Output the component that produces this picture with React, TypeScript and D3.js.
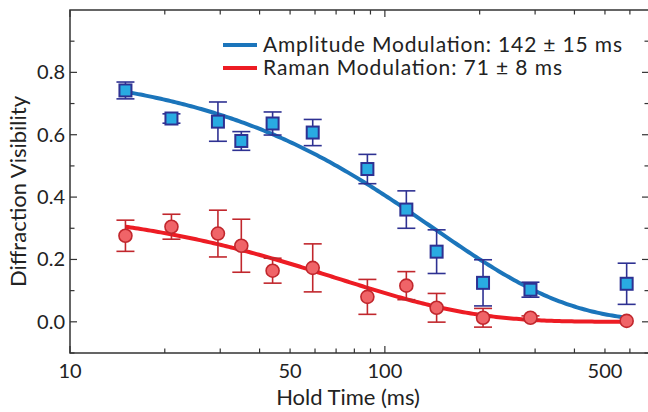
import { scaleLog, scaleLinear, line as d3Line, range } from "d3";

// hold times (ms)
const amTimes = [15, 21, 29.5, 35, 44, 59, 88, 117, 146, 205, 290, 586];
const amVis = [0.742, 0.652, 0.642, 0.58, 0.636, 0.607, 0.49, 0.36, 0.225, 0.125, 0.103, 0.122];
const amErr = [0.027, 0.015, 0.063, 0.03, 0.037, 0.042, 0.047, 0.06, 0.07, 0.074, 0.024, 0.066];

const rmTimes = [15, 21, 29.5, 35, 44, 59, 88, 117, 146, 205, 290, 586];
const rmVis = [0.276, 0.305, 0.283, 0.244, 0.164, 0.173, 0.08, 0.116, 0.045, 0.013, 0.013, 0.003];
const rmErr = [0.05, 0.04, 0.075, 0.085, 0.04, 0.077, 0.056, 0.045, 0.046, 0.03, 0.006, 0];

// exponential fits A * exp(-t / tau)
const amFit = { amp: 0.82, tau: 142 };
const rmFit = { amp: 0.377, tau: 71 };

const xLabels = [10, 50, 100, 500];
const yLabels = [0, 0.2, 0.4, 0.6, 0.8];

const W = 648;
const H = 412;
const m = { left: 70, right: 649, top: 10, bottom: 353 };
const FONT = "Lato, 'Open Sans', sans-serif";

export default function App() {
  const x = scaleLog().domain([10, 690]).range([m.left, m.right]);
  const y = scaleLinear().domain([-0.1, 1.0]).range([m.bottom, m.top]);

  const minorX = [
    ...range(10, 100, 10),
    ...range(100, 700, 100),
  ];
  const minorY = range(-0.1, 1.0, 0.1).map((v) => Math.round(v * 10) / 10);

  const fitTimes = range(0, 201).map((i) => 15 * Math.pow(600 / 15, i / 200));
  const fitLine = (p: { amp: number; tau: number }) =>
    d3Line<number>()
      .x((t) => x(t))
      .y((t) => y(p.amp * Math.exp(-t / p.tau)))(fitTimes)!;

  const axisColor = "#333";
  const blueLine = "#1b75bb";
  const blueFill = "#29abe2";
  const blueEdge = "#2e3192";
  const redLine = "#ed1c24";
  const redFill = "#f06468";
  const redEdge = "#c1272d";

  return (
    <svg
      width={W}
      height={H}
      style={{ position: "absolute", left: 0, top: 0, background: "#fff" }}
      fontFamily={FONT}
    >
      {/* frame */}
      <rect
        x={m.left}
        y={m.top}
        width={m.right - m.left}
        height={m.bottom - m.top}
        fill="none"
        stroke={axisColor}
        strokeWidth={1.5}
      />

      {/* x ticks bottom + top */}
      {minorX.map((t) => {
        const major = t === 10 || t === 100;
        const len = major ? 7 : 4.5;
        return (
          <g key={"xt" + t} stroke={axisColor} strokeWidth={1.2}>
            <line x1={x(t)} x2={x(t)} y1={m.bottom} y2={m.bottom - len} />
            <line x1={x(t)} x2={x(t)} y1={m.top} y2={m.top + len} />
          </g>
        );
      })}
      {xLabels.map((t) => (
        <text
          key={"xl" + t}
          x={x(t)}
          y={378}
          textAnchor="middle"
          fontSize={20}
          fill="#222"
        >
          {t}
        </text>
      ))}

      {/* y ticks left + right */}
      {minorY.map((v) => {
        const major = Math.abs(Math.round(v * 10)) % 2 === 0 && v >= 0;
        const len = major ? 7 : 4.5;
        return (
          <g key={"yt" + v} stroke={axisColor} strokeWidth={1.2}>
            <line x1={m.left} x2={m.left + len} y1={y(v)} y2={y(v)} />
            <line x1={m.right} x2={m.right - len} y1={y(v)} y2={y(v)} />
          </g>
        );
      })}
      {yLabels.map((v) => (
        <text
          key={"yl" + v}
          x={65}
          y={y(v)}
          dy="0.35em"
          textAnchor="end"
          fontSize={20}
          fill="#222"
        >
          {v.toFixed(1)}
        </text>
      ))}

      {/* axis titles */}
      <text x={348} y={405} textAnchor="middle" fontSize={22} fill="#222">
        Hold Time (ms)
      </text>
      <text
        transform={`translate(26, ${(m.top + m.bottom) / 2 + 10}) rotate(-90)`}
        textAnchor="middle"
        fontSize={22}
        fill="#222"
      >
        Diffraction Visibility
      </text>

      {/* fits */}
      <path d={fitLine(amFit)} fill="none" stroke={blueLine} strokeWidth={4} />
      <path d={fitLine(rmFit)} fill="none" stroke={redLine} strokeWidth={4} />

      {/* raman points */}
      {rmTimes.map((t, i) => {
        const cx = x(t);
        const e = rmErr[i];
        return (
          <g key={"r" + i} stroke={redEdge} strokeWidth={1.6}>
            {e > 0 && (
              <>
                <line x1={cx} x2={cx} y1={y(rmVis[i] - e)} y2={y(rmVis[i] + e)} />
                <line x1={cx - 9} x2={cx + 9} y1={y(rmVis[i] - e)} y2={y(rmVis[i] - e)} />
                <line x1={cx - 9} x2={cx + 9} y1={y(rmVis[i] + e)} y2={y(rmVis[i] + e)} />
              </>
            )}
            <circle cx={cx} cy={y(rmVis[i])} r={6.5} fill={redFill} />
          </g>
        );
      })}

      {/* amplitude points */}
      {amTimes.map((t, i) => {
        const cx = x(t);
        const e = amErr[i];
        return (
          <g key={"a" + i} stroke={blueEdge} strokeWidth={1.6}>
            <line x1={cx} x2={cx} y1={y(amVis[i] - e)} y2={y(amVis[i] + e)} />
            <line x1={cx - 9} x2={cx + 9} y1={y(amVis[i] - e)} y2={y(amVis[i] - e)} />
            <line x1={cx - 9} x2={cx + 9} y1={y(amVis[i] + e)} y2={y(amVis[i] + e)} />
            <rect
              x={cx - 6}
              y={y(amVis[i]) - 6}
              width={12}
              height={12}
              fill={blueFill}
              strokeWidth={2}
            />
          </g>
        );
      })}

      {/* legend */}
      <line x1={223} x2={257} y1={45} y2={45} stroke={blueLine} strokeWidth={4} />
      <text x={263} y={52} fontSize={21} fill="#222" textLength={359} lengthAdjust="spacing">
        Amplitude Modulation: 142 ± 15 ms
      </text>
      <line x1={223} x2={257} y1={68} y2={68} stroke={redLine} strokeWidth={4} />
      <text x={263} y={75} fontSize={21} fill="#222" textLength={299} lengthAdjust="spacing">
        Raman Modulation: 71 ± 8 ms
      </text>
    </svg>
  );
}
